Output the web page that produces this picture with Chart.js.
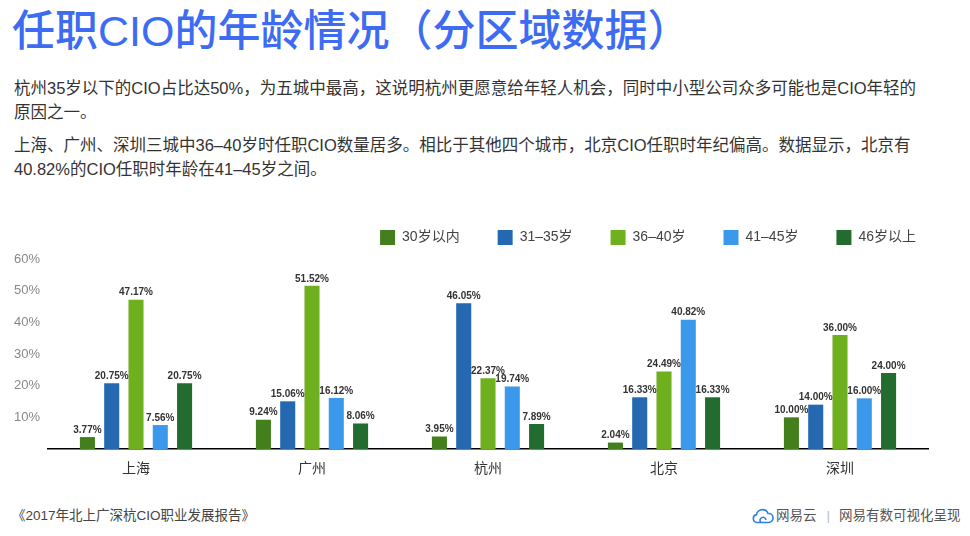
<!DOCTYPE html>
<html>
<head>
<meta charset="utf-8">
<script src="https://cdn.jsdelivr.net/npm/chart.js@4"></script>
<style>
body { margin: 0; width: 970px; height: 536px; background: #fff; overflow: hidden; position: relative;
       font-family: "Liberation Sans", "Noto Sans CJK SC", sans-serif; color: #333; }
#title { position: absolute; left: 12px; top: 5px; font-size: 43px; font-weight: 500; line-height: 52px; color: #3d6cf2; white-space: nowrap; }
.p { position: absolute; left: 14px; font-size: 16.5px; line-height: 24px; white-space: nowrap; color: #333; }
#p1 { top: 76px; }
#p2 { top: 133px; }
#chartBox { position: absolute; left: 0; top: 190px; width: 970px; height: 300px; }
#src { position: absolute; left: 12px; top: 507px; font-size: 13.5px; line-height: 18px; color: #444; white-space: nowrap; }
#brand { position: absolute; left: 752px; top: 506px; font-size: 13.5px; line-height: 20px; color: #555; white-space: nowrap; display: flex; align-items: center; }
#brand svg { margin-right: 2px; }
#brand .sep { color: #bbb; margin: 0 9px 0 10px; }
</style>
</head>
<body>
<div id="title">任职CIO的年龄情况（分区域数据）</div>
<div class="p" id="p1">杭州35岁以下的CIO占比达50%，为五城中最高，这说明杭州更愿意给年轻人机会，同时中小型公司众多可能也是CIO年轻的<br>原因之一。</div>
<div class="p" id="p2">上海、广州、深圳三城中36–40岁时任职CIO数量居多。相比于其他四个城市，北京CIO任职时年纪偏高。数据显示，北京有<br>40.82%的CIO任职时年龄在41–45岁之间。</div>
<div id="chartBox"><canvas id="chart"></canvas></div>
<div id="src">《2017年北上广深杭CIO职业发展报告》</div>
<div id="brand">
  <svg width="22" height="16" viewBox="0 0 22 16"><path d="M5 14.5 A4 4 0 0 1 4.5 6.6 A6 6 0 0 1 16 5.5 A4.5 4.5 0 0 1 17 14.5 Z M9 14.5 A3 3 0 1 1 14 12" fill="none" stroke="#2f80e6" stroke-width="1.6"/></svg>
  <span>网易云</span><span class="sep">|</span><span>网易有数可视化呈现</span>
</div>
<script>
const cities = ['上海', '广州', '杭州', '北京', '深圳'];
const ageGroups = ['30岁以内', '31–35岁', '36–40岁', '41–45岁', '46岁以上'];
const under30 = [3.77, 9.24, 3.95, 2.04, 10.00];
const age31to35 = [20.75, 15.06, 46.05, 16.33, 14.00];
const age36to40 = [47.17, 51.52, 22.37, 24.49, 36.00];
const age41to45 = [7.56, 16.12, 19.74, 40.82, 16.00];
const over46 = [20.75, 8.06, 7.89, 16.33, 24.00];
const yTicks = [10, 20, 30, 40, 50, 60];

const colors = ['#43801d', '#2468b2', '#6fb01f', '#3b98ea', '#236c2f'];
const series = [under30, age31to35, age36to40, age41to45, over46];

const fontFamily = '"Liberation Sans", "Noto Sans CJK SC", sans-serif';

// value labels above each bar
const barLabels = {
    id: 'barLabels',
    afterDatasetsDraw(chart) {
        const ctx = chart.ctx;
        ctx.save();
        ctx.font = 'bold 10px ' + fontFamily;
        ctx.fillStyle = '#333';
        ctx.textAlign = 'center';
        ctx.textBaseline = 'bottom';
        chart.data.datasets.forEach((ds, i) => {
            chart.getDatasetMeta(i).data.forEach((bar, j) => {
                ctx.fillText(ds.data[j].toFixed(2) + '%', bar.x, bar.y - 2);
            });
        });
        ctx.restore();
    }
};

// empty axes only used as spacers
const spacer = (pos, fit) => ({
    position: pos,
    display: true,
    grid: { display: false },
    border: { display: false },
    ticks: { display: false },
    afterFit: fit
});

new Chart(document.getElementById('chart'), {
    type: 'bar',
    data: {
        labels: cities,
        datasets: series.map((d, i) => ({
            label: ageGroups[i],
            data: d,
            backgroundColor: colors[i],
            borderWidth: 0,
            categoryPercentage: 0.69,
            barPercentage: 0.62
        }))
    },
    options: {
        responsive: true,
        maintainAspectRatio: false,
        animation: false,
        layout: { padding: { left: 14, right: 16, top: 2, bottom: 0 } },
        plugins: {
            legend: {
                position: 'top',
                align: 'end',
                labels: {
                    boxWidth: 15,
                    boxHeight: 15,
                    padding: 38,
                    color: '#444',
                    font: { size: 14, family: fontFamily }
                }
            },
            tooltip: { enabled: false }
        },
        scales: {
            x: {
                grid: { display: false, drawTicks: false },
                border: { display: true, color: '#000', width: 1.5 },
                ticks: { color: '#333', padding: 12, font: { size: 14, family: fontFamily } },
                afterFit: s => { s.height = 41; }
            },
            y: {
                min: 0,
                max: 60,
                grid: { display: false },
                border: { display: false },
                afterBuildTicks: s => { s.ticks = [0].concat(yTicks).map(v => ({ value: v })); },
                ticks: {
                    color: '#888',
                    padding: 0,
                    crossAlign: 'far',
                    font: { size: 13, family: fontFamily },
                    callback: v => v === 0 ? '' : v + '%'
                },
                afterFit: s => { s.width = 34; }
            },
            padRight: spacer('right', s => { s.width = 26; }),
            padTop: Object.assign({ type: 'category' }, spacer('top', s => { s.height = 4; }))
        }
    },
    plugins: [barLabels]
});
</script>
</body>
</html>
